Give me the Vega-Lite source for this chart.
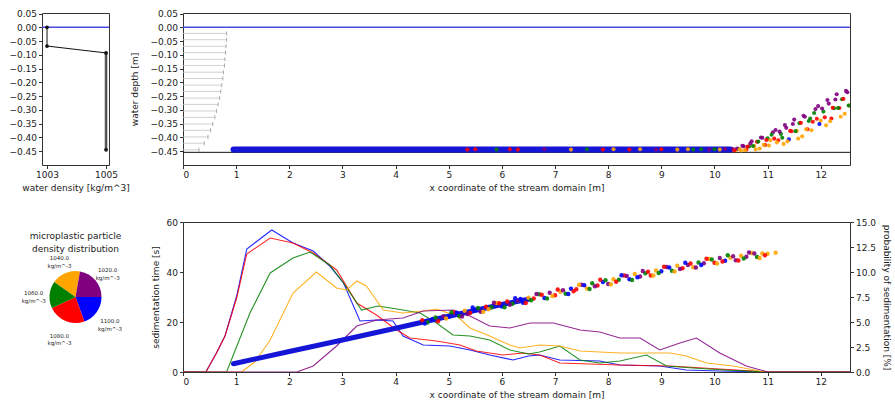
{
 "$schema": "https://vega.github.io/schema/vega-lite/v6.json",
 "padding": {"left": 8, "top": 9, "right": 0, "bottom": 0},
 "background": "white",
 "config": {
  "font": "DejaVu Sans",
  "view": {"stroke": "#333", "strokeWidth": 1},
  "axis": {"labelFont": "DejaVu Sans", "titleFont": "DejaVu Sans", "labelFontSize": 9, "titleFontSize": 9, "titleFontWeight": "normal", "labelColor": "#222", "titleColor": "#222", "grid": false, "domain": false, "tickSize": 3.5, "tickColor": "#333", "labelPadding": 2, "titlePadding": 4, "labelOverlap": false},
  "title": {"font": "DejaVu Sans", "fontSize": 9, "fontWeight": "normal", "color": "#222"}
 },
 "datasets": {
  "profile": [{"d": 1003, "z": 0.0}, {"d": 1003, "z": -0.068}, {"d": 1005, "z": -0.093}, {"d": 1005, "z": -0.445}],
  "profileGrey": [{"d": 1005, "z": -0.093}, {"d": 1005, "z": -0.445}],
  "quiver": [
   {"z": -0.022, "xs": 0, "xe": 0.82}, {"z": -0.045, "xs": 0, "xe": 0.82}, {"z": -0.069, "xs": 0, "xe": 0.81}, {"z": -0.092, "xs": 0, "xe": 0.8}, {"z": -0.116, "xs": 0, "xe": 0.79}, {"z": -0.139, "xs": 0, "xe": 0.78}, {"z": -0.163, "xs": 0, "xe": 0.76}, {"z": -0.186, "xs": 0, "xe": 0.75}, {"z": -0.21, "xs": 0, "xe": 0.73}, {"z": -0.233, "xs": 0, "xe": 0.71}, {"z": -0.257, "xs": 0, "xe": 0.69}, {"z": -0.28, "xs": 0, "xe": 0.66}, {"z": -0.304, "xs": 0, "xe": 0.63}, {"z": -0.327, "xs": 0, "xe": 0.6}, {"z": -0.351, "xs": 0, "xe": 0.56}, {"z": -0.374, "xs": 0, "xe": 0.52}, {"z": -0.398, "xs": 0, "xe": 0.47}, {"z": -0.421, "xs": 0, "xe": 0.4}, {"z": -0.445, "xs": 0, "xe": 0.3}
  ],
  "bandTop": [{"x": 0.95, "z": -0.444}, {"x": 10.3, "z": -0.444}],
  "particlesTop": [
   {"x": 5.35, "z": -0.444, "c": "red"}, {"x": 5.5, "z": -0.443, "c": "red"}, {"x": 5.9, "z": -0.444, "c": "green"}, {"x": 6.15, "z": -0.443, "c": "red"}, {"x": 6.3, "z": -0.444, "c": "red"}, {"x": 6.8, "z": -0.443, "c": "purple"}, {"x": 7.3, "z": -0.444, "c": "orange"}, {"x": 7.6, "z": -0.443, "c": "green"}, {"x": 7.9, "z": -0.444, "c": "red"}, {"x": 8.1, "z": -0.443, "c": "orange"}, {"x": 8.4, "z": -0.444, "c": "red"}, {"x": 8.6, "z": -0.443, "c": "orange"}, {"x": 8.9, "z": -0.444, "c": "purple"}, {"x": 9.0, "z": -0.443, "c": "red"}, {"x": 9.3, "z": -0.444, "c": "orange"}, {"x": 9.5, "z": -0.443, "c": "orange"}, {"x": 9.6, "z": -0.444, "c": "green"}, {"x": 9.75, "z": -0.443, "c": "green"}, {"x": 9.9, "z": -0.444, "c": "purple"}, {"x": 10.0, "z": -0.443, "c": "green"}, {"x": 10.1, "z": -0.444, "c": "orange"}, {"x": 10.2, "z": -0.442, "c": "purple"},
   {"x": 10.35, "z": -0.442, "c": "purple"}, {"x": 10.4, "z": -0.446, "c": "orange"}, {"x": 10.45, "z": -0.441, "c": "green"}, {"x": 10.5, "z": -0.447, "c": "orange"}, {"x": 10.55, "z": -0.432, "c": "purple"}, {"x": 10.6, "z": -0.444, "c": "red"}, {"x": 10.65, "z": -0.433, "c": "green"}, {"x": 10.7, "z": -0.414, "c": "purple"}, {"x": 10.75, "z": -0.431, "c": "orange"}, {"x": 10.8, "z": -0.416, "c": "red"}, {"x": 10.85, "z": -0.44, "c": "orange"}, {"x": 10.9, "z": -0.401, "c": "purple"}, {"x": 10.95, "z": -0.427, "c": "red"}, {"x": 11.0, "z": -0.403, "c": "green"}, {"x": 11.05, "z": -0.41, "c": "orange"}, {"x": 11.1, "z": -0.381, "c": "purple"}, {"x": 11.15, "z": -0.373, "c": "purple"}, {"x": 11.2, "z": -0.41, "c": "red"}, {"x": 11.25, "z": -0.387, "c": "green"}, {"x": 11.3, "z": -0.4235, "c": "orange"}, {"x": 11.35, "z": -0.365, "c": "purple"}, {"x": 11.4, "z": -0.407, "c": "blue"}, {"x": 11.45, "z": -0.3775, "c": "red"}, {"x": 11.5, "z": -0.335, "c": "purple"}, {"x": 11.55, "z": -0.376, "c": "orange"}, {"x": 11.6, "z": -0.348, "c": "green"}, {"x": 11.65, "z": -0.396, "c": "orange"}, {"x": 11.7, "z": -0.325, "c": "purple"}, {"x": 11.75, "z": -0.37, "c": "red"}, {"x": 11.8, "z": -0.331, "c": "green"}, {"x": 11.85, "z": -0.343, "c": "red"}, {"x": 11.9, "z": -0.297, "c": "purple"}, {"x": 11.95, "z": -0.286, "c": "purple"}, {"x": 12.0, "z": -0.339, "c": "orange"}, {"x": 12.05, "z": -0.306, "c": "green"}, {"x": 12.1, "z": -0.356, "c": "orange"}, {"x": 12.15, "z": -0.277, "c": "purple"}, {"x": 12.2, "z": -0.331, "c": "red"}, {"x": 12.25, "z": -0.294, "c": "green"}, {"x": 12.3, "z": -0.243, "c": "purple"}, {"x": 12.35, "z": -0.293, "c": "red"}, {"x": 12.4, "z": -0.261, "c": "green"}, {"x": 12.45, "z": -0.314, "c": "orange"}, {"x": 12.5, "z": -0.236, "c": "purple"}, {"x": 12.54, "z": -0.284, "c": "orange"},
   {"x": 10.375, "z": -0.447, "c": "red"}, {"x": 10.425, "z": -0.44, "c": "purple"}, {"x": 10.475, "z": -0.443, "c": "orange"}, {"x": 10.525, "z": -0.43, "c": "purple"}, {"x": 10.575, "z": -0.446, "c": "orange"}, {"x": 10.625, "z": -0.433, "c": "red"}, {"x": 10.675, "z": -0.422, "c": "purple"}, {"x": 10.725, "z": -0.431, "c": "green"}, {"x": 10.775, "z": -0.4435, "c": "orange"}, {"x": 10.825, "z": -0.415, "c": "green"}, {"x": 10.875, "z": -0.4, "c": "purple"}, {"x": 10.925, "z": -0.427, "c": "orange"}, {"x": 10.975, "z": -0.409, "c": "red"}, {"x": 11.025, "z": -0.429, "c": "orange"}, {"x": 11.075, "z": -0.39, "c": "green"}, {"x": 11.125, "z": -0.404, "c": "red"}, {"x": 11.175, "z": -0.418, "c": "orange"}, {"x": 11.225, "z": -0.379, "c": "purple"}, {"x": 11.275, "z": -0.401, "c": "green"}, {"x": 11.325, "z": -0.355, "c": "purple"}, {"x": 11.375, "z": -0.414, "c": "orange"}, {"x": 11.425, "z": -0.376, "c": "red"}, {"x": 11.475, "z": -0.351, "c": "purple"}, {"x": 11.525, "z": -0.377, "c": "green"}, {"x": 11.575, "z": -0.404, "c": "orange"}, {"x": 11.625, "z": -0.347, "c": "red"}, {"x": 11.675, "z": -0.321, "c": "purple"}, {"x": 11.725, "z": -0.37, "c": "orange"}, {"x": 11.775, "z": -0.34, "c": "green"}, {"x": 11.825, "z": -0.374, "c": "orange"}, {"x": 11.875, "z": -0.311, "c": "green"}, {"x": 11.925, "z": -0.332, "c": "red"}, {"x": 11.975, "z": -0.351, "c": "blue"}, {"x": 12.025, "z": -0.295, "c": "purple"}, {"x": 12.075, "z": -0.327, "c": "red"}, {"x": 12.125, "z": -0.264, "c": "purple"}, {"x": 12.175, "z": -0.341, "c": "orange"}, {"x": 12.225, "z": -0.292, "c": "red"}, {"x": 12.275, "z": -0.262, "c": "purple"}, {"x": 12.325, "z": -0.293, "c": "green"}, {"x": 12.375, "z": -0.325, "c": "orange"}, {"x": 12.425, "z": -0.26, "c": "red"}, {"x": 12.475, "z": -0.231, "c": "purple"}, {"x": 12.525, "z": -0.284, "c": "green"}
  ],
  "pie": [
   {"o": 1, "v": 65, "c": "orange", "lab": "1040.0\nkg/m^-3"},
   {"o": 2, "v": 80, "c": "purple", "lab": "1020.0\nkg/m^-3"},
   {"o": 3, "v": 70, "c": "blue", "lab": "1100.0\nkg/m^-3"},
   {"o": 4, "v": 85, "c": "red", "lab": "1080.0\nkg/m^-3"},
   {"o": 5, "v": 60, "c": "green", "lab": "1060.0\nkg/m^-3"}
  ],
  "bandBottom": [{"x": 0.95, "t": 3.3}, {"x": 2, "t": 8.2}, {"x": 3, "t": 12.8}, {"x": 4, "t": 17.5}, {"x": 5, "t": 22.3}, {"x": 6, "t": 27.0}, {"x": 6.5, "t": 29.1}],
  "sedi": [
   {"x": 4.5, "t": 20.7, "c": "red"}, {"x": 4.6, "t": 19.8, "c": "green"}, {"x": 4.7, "t": 21.2, "c": "blue"}, {"x": 4.8, "t": 20.3, "c": "red"}, {"x": 4.9, "t": 22.3, "c": "purple"}, {"x": 5.0, "t": 22.1, "c": "blue"}, {"x": 5.1, "t": 23.9, "c": "red"}, {"x": 5.2, "t": 22.4, "c": "green"}, {"x": 5.3, "t": 24.5, "c": "orange"}, {"x": 5.4, "t": 23.6, "c": "red"}, {"x": 5.5, "t": 25.0, "c": "blue"}, {"x": 5.6, "t": 24.1, "c": "purple"}, {"x": 5.7, "t": 26.1, "c": "red"}, {"x": 5.8, "t": 25.9, "c": "green"}, {"x": 5.9, "t": 27.6, "c": "orange"}, {"x": 6.0, "t": 26.2, "c": "blue"}, {"x": 6.1, "t": 28.2, "c": "red"}, {"x": 6.2, "t": 27.3, "c": "green"}, {"x": 6.3, "t": 28.6, "c": "purple"}, {"x": 6.4, "t": 27.7, "c": "blue"}, {"x": 6.5, "t": 29.7, "c": "orange"}, {"x": 6.6, "t": 29.4, "c": "red"}, {"x": 6.7, "t": 31.1, "c": "green"}, {"x": 6.8, "t": 29.6, "c": "blue"}, {"x": 6.9, "t": 31.7, "c": "purple"}, {"x": 7.0, "t": 30.7, "c": "red"}, {"x": 7.1, "t": 32.1, "c": "orange"}, {"x": 7.2, "t": 31.3, "c": "green"}, {"x": 7.3, "t": 33.3, "c": "blue"}, {"x": 7.4, "t": 33.1, "c": "red"}, {"x": 7.5, "t": 34.9, "c": "purple"}, {"x": 7.6, "t": 33.4, "c": "orange"}, {"x": 7.7, "t": 35.5, "c": "green"}, {"x": 7.8, "t": 34.6, "c": "red"}, {"x": 7.9, "t": 36.0, "c": "blue"}, {"x": 8.0, "t": 35.2, "c": "purple"}, {"x": 8.1, "t": 37.1, "c": "orange"}, {"x": 8.2, "t": 36.9, "c": "green"}, {"x": 8.3, "t": 38.6, "c": "red"}, {"x": 8.4, "t": 37.1, "c": "blue"}, {"x": 8.5, "t": 39.2, "c": "orange"}, {"x": 8.6, "t": 38.2, "c": "purple"}, {"x": 8.7, "t": 39.5, "c": "green"}, {"x": 8.8, "t": 38.6, "c": "red"}, {"x": 8.9, "t": 40.6, "c": "orange"}, {"x": 9.0, "t": 40.3, "c": "blue"}, {"x": 9.1, "t": 42.0, "c": "purple"}, {"x": 9.2, "t": 40.5, "c": "green"}, {"x": 9.3, "t": 42.5, "c": "orange"}, {"x": 9.4, "t": 41.5, "c": "red"}, {"x": 9.5, "t": 42.8, "c": "purple"}, {"x": 9.6, "t": 41.9, "c": "orange"}, {"x": 9.7, "t": 43.8, "c": "green"}, {"x": 9.8, "t": 43.5, "c": "purple"}, {"x": 9.9, "t": 45.2, "c": "orange"}, {"x": 10.0, "t": 43.7, "c": "red"}, {"x": 10.1, "t": 45.6, "c": "purple"}, {"x": 10.2, "t": 44.5, "c": "blue"}, {"x": 10.3, "t": 45.7, "c": "orange"}, {"x": 10.4, "t": 44.7, "c": "purple"}, {"x": 10.5, "t": 46.5, "c": "orange"}, {"x": 10.6, "t": 46.1, "c": "purple"}, {"x": 10.7, "t": 47.6, "c": "orange"}, {"x": 10.8, "t": 46.0, "c": "green"}, {"x": 10.9, "t": 47.4, "c": "orange"}, {"x": 11.0, "t": 47.3, "c": "orange"}, {"x": 11.15, "t": 47.7, "c": "orange"},
   {"x": 4.55, "t": 19.4, "c": "blue"}, {"x": 4.75, "t": 21.8, "c": "green"}, {"x": 4.95, "t": 21.4, "c": "orange"}, {"x": 5.15, "t": 23.7, "c": "blue"}, {"x": 5.35, "t": 23.2, "c": "purple"}, {"x": 5.55, "t": 25.6, "c": "green"}, {"x": 5.75, "t": 25.1, "c": "orange"}, {"x": 5.95, "t": 27.5, "c": "red"}, {"x": 6.15, "t": 26.9, "c": "purple"}, {"x": 6.35, "t": 29.2, "c": "blue"}, {"x": 6.55, "t": 28.7, "c": "green"}, {"x": 6.75, "t": 30.9, "c": "red"}, {"x": 6.95, "t": 30.4, "c": "orange"}, {"x": 7.15, "t": 32.7, "c": "purple"}, {"x": 7.35, "t": 32.3, "c": "red"}, {"x": 7.55, "t": 34.7, "c": "blue"}, {"x": 7.75, "t": 34.3, "c": "purple"}, {"x": 7.95, "t": 36.7, "c": "green"}, {"x": 8.15, "t": 36.1, "c": "red"}, {"x": 8.35, "t": 38.4, "c": "purple"}, {"x": 8.55, "t": 37.9, "c": "blue"}, {"x": 8.75, "t": 40.1, "c": "red"}, {"x": 8.95, "t": 39.6, "c": "green"}, {"x": 9.15, "t": 41.8, "c": "blue"}, {"x": 9.35, "t": 41.2, "c": "purple"}, {"x": 9.55, "t": 43.4, "c": "red"}, {"x": 9.75, "t": 42.8, "c": "blue"}, {"x": 9.95, "t": 45.0, "c": "green"}, {"x": 10.15, "t": 44.2, "c": "red"}, {"x": 10.35, "t": 46.3, "c": "purple"}, {"x": 10.55, "t": 45.4, "c": "green"}, {"x": 10.75, "t": 47.4, "c": "purple"}, {"x": 10.95, "t": 46.7, "c": "red"},
   {"x": 5.05, "t": 23.9, "c": "green"}, {"x": 5.25, "t": 22.2, "c": "purple"}, {"x": 5.45, "t": 25.8, "c": "blue"}, {"x": 5.65, "t": 24.1, "c": "orange"}, {"x": 5.85, "t": 27.7, "c": "purple"}, {"x": 6.05, "t": 25.9, "c": "green"}, {"x": 6.25, "t": 29.5, "c": "blue"}, {"x": 6.45, "t": 27.6, "c": "red"}, {"x": 6.65, "t": 31.2, "c": "purple"}, {"x": 6.85, "t": 29.4, "c": "green"}, {"x": 7.05, "t": 33.0, "c": "red"}, {"x": 7.25, "t": 31.2, "c": "blue"}, {"x": 7.45, "t": 34.9, "c": "orange"}, {"x": 7.65, "t": 33.2, "c": "green"}, {"x": 7.85, "t": 36.9, "c": "red"}, {"x": 8.05, "t": 35.1, "c": "orange"}, {"x": 8.25, "t": 38.7, "c": "blue"}, {"x": 8.45, "t": 36.8, "c": "green"}, {"x": 8.65, "t": 40.4, "c": "purple"}, {"x": 8.85, "t": 38.6, "c": "orange"}, {"x": 9.05, "t": 42.1, "c": "red"}, {"x": 9.25, "t": 40.2, "c": "orange"}, {"x": 9.45, "t": 43.7, "c": "blue"}, {"x": 9.65, "t": 41.8, "c": "purple"}, {"x": 9.85, "t": 45.3, "c": "red"}, {"x": 10.05, "t": 43.4, "c": "orange"}, {"x": 10.25, "t": 46.7, "c": "green"}, {"x": 10.45, "t": 44.6, "c": "red"}, {"x": 10.65, "t": 47.8, "c": "purple"}, {"x": 10.85, "t": 45.6, "c": "orange"}
  ],
  "prob": [
   {"c": "blue", "x": 0, "p": 0}, {"c": "blue", "x": 0.43, "p": 0}, {"c": "blue", "x": 0.63, "p": 1.9}, {"c": "blue", "x": 0.79, "p": 3.6}, {"c": "blue", "x": 1.01, "p": 7.6}, {"c": "blue", "x": 1.2, "p": 12.3}, {"c": "blue", "x": 1.67, "p": 14.2}, {"c": "blue", "x": 2.07, "p": 12.9}, {"c": "blue", "x": 2.45, "p": 12.1}, {"c": "blue", "x": 2.76, "p": 10.6}, {"c": "blue", "x": 3.02, "p": 8.9}, {"c": "blue", "x": 3.33, "p": 5.1}, {"c": "blue", "x": 3.64, "p": 5.2}, {"c": "blue", "x": 3.95, "p": 5.1}, {"c": "blue", "x": 4.14, "p": 3.6}, {"c": "blue", "x": 4.52, "p": 2.7}, {"c": "blue", "x": 5.02, "p": 2.6}, {"c": "blue", "x": 5.4, "p": 2.2}, {"c": "blue", "x": 5.77, "p": 1.7}, {"c": "blue", "x": 6.21, "p": 1.2}, {"c": "blue", "x": 6.5, "p": 1.6}, {"c": "blue", "x": 6.71, "p": 1.7}, {"c": "blue", "x": 7.09, "p": 1.2}, {"c": "blue", "x": 7.84, "p": 1.1}, {"c": "blue", "x": 8.22, "p": 0.7}, {"c": "blue", "x": 8.97, "p": 0.6}, {"c": "blue", "x": 9.47, "p": 0.2}, {"c": "blue", "x": 10.1, "p": 0.1}, {"c": "blue", "x": 11, "p": 0}, {"c": "blue", "x": 12.55, "p": 0},
   {"c": "red", "x": 0, "p": 0}, {"c": "red", "x": 0.43, "p": 0}, {"c": "red", "x": 0.63, "p": 1.9}, {"c": "red", "x": 0.79, "p": 3.6}, {"c": "red", "x": 1.01, "p": 7.4}, {"c": "red", "x": 1.2, "p": 11.8}, {"c": "red", "x": 1.64, "p": 13.4}, {"c": "red", "x": 2.07, "p": 12.9}, {"c": "red", "x": 2.45, "p": 11.9}, {"c": "red", "x": 2.89, "p": 10.2}, {"c": "red", "x": 3.27, "p": 6.9}, {"c": "red", "x": 3.64, "p": 5.7}, {"c": "red", "x": 4.02, "p": 4.2}, {"c": "red", "x": 4.27, "p": 3.4}, {"c": "red", "x": 4.77, "p": 3.1}, {"c": "red", "x": 5.21, "p": 2.7}, {"c": "red", "x": 5.52, "p": 2.1}, {"c": "red", "x": 6.02, "p": 1.7}, {"c": "red", "x": 6.4, "p": 1.9}, {"c": "red", "x": 6.71, "p": 1.7}, {"c": "red", "x": 7.09, "p": 0.9}, {"c": "red", "x": 8.22, "p": 0.7}, {"c": "red", "x": 9.16, "p": 0.6}, {"c": "red", "x": 9.78, "p": 0.4}, {"c": "red", "x": 10.41, "p": 0.2}, {"c": "red", "x": 11, "p": 0}, {"c": "red", "x": 12.55, "p": 0},
   {"c": "green", "x": 0, "p": 0}, {"c": "green", "x": 0.82, "p": 0}, {"c": "green", "x": 1.26, "p": 5.9}, {"c": "green", "x": 1.64, "p": 9.9}, {"c": "green", "x": 2.07, "p": 11.4}, {"c": "green", "x": 2.39, "p": 12.0}, {"c": "green", "x": 2.76, "p": 10.7}, {"c": "green", "x": 3.02, "p": 8.9}, {"c": "green", "x": 3.36, "p": 6.2}, {"c": "green", "x": 3.67, "p": 6.6}, {"c": "green", "x": 4.14, "p": 6.2}, {"c": "green", "x": 4.46, "p": 5.9}, {"c": "green", "x": 4.77, "p": 4.9}, {"c": "green", "x": 5.08, "p": 3.7}, {"c": "green", "x": 5.4, "p": 3.6}, {"c": "green", "x": 5.77, "p": 3.2}, {"c": "green", "x": 6.15, "p": 2.2}, {"c": "green", "x": 6.5, "p": 1.8}, {"c": "green", "x": 6.71, "p": 2.0}, {"c": "green", "x": 7.09, "p": 2.6}, {"c": "green", "x": 7.47, "p": 1.2}, {"c": "green", "x": 7.84, "p": 0.9}, {"c": "green", "x": 8.22, "p": 1.1}, {"c": "green", "x": 8.72, "p": 1.7}, {"c": "green", "x": 9.1, "p": 0.6}, {"c": "green", "x": 9.6, "p": 0.4}, {"c": "green", "x": 10.2, "p": 0.2}, {"c": "green", "x": 11, "p": 0}, {"c": "green", "x": 12.55, "p": 0},
   {"c": "orange", "x": 0, "p": 0}, {"c": "orange", "x": 1.1, "p": 0}, {"c": "orange", "x": 1.35, "p": 1.0}, {"c": "orange", "x": 1.64, "p": 3.2}, {"c": "orange", "x": 2.07, "p": 7.9}, {"c": "orange", "x": 2.51, "p": 10.0}, {"c": "orange", "x": 2.89, "p": 8.4}, {"c": "orange", "x": 3.08, "p": 8.2}, {"c": "orange", "x": 3.27, "p": 9.1}, {"c": "orange", "x": 3.45, "p": 8.6}, {"c": "orange", "x": 3.77, "p": 6.2}, {"c": "orange", "x": 4.14, "p": 5.9}, {"c": "orange", "x": 4.52, "p": 6.1}, {"c": "orange", "x": 4.77, "p": 6.3}, {"c": "orange", "x": 5.15, "p": 5.6}, {"c": "orange", "x": 5.4, "p": 4.4}, {"c": "orange", "x": 5.77, "p": 3.6}, {"c": "orange", "x": 6.15, "p": 2.7}, {"c": "orange", "x": 6.34, "p": 2.4}, {"c": "orange", "x": 6.71, "p": 2.7}, {"c": "orange", "x": 7.09, "p": 2.6}, {"c": "orange", "x": 7.47, "p": 2.1}, {"c": "orange", "x": 8.22, "p": 1.9}, {"c": "orange", "x": 9.16, "p": 1.9}, {"c": "orange", "x": 9.47, "p": 1.6}, {"c": "orange", "x": 9.85, "p": 0.9}, {"c": "orange", "x": 10.35, "p": 0.6}, {"c": "orange", "x": 10.85, "p": 0.1}, {"c": "orange", "x": 11, "p": 0}, {"c": "orange", "x": 12.55, "p": 0},
   {"c": "purple", "x": 0, "p": 0}, {"c": "purple", "x": 2.14, "p": 0}, {"c": "purple", "x": 2.45, "p": 0.6}, {"c": "purple", "x": 2.89, "p": 2.6}, {"c": "purple", "x": 3.27, "p": 4.6}, {"c": "purple", "x": 3.64, "p": 5.2}, {"c": "purple", "x": 4.14, "p": 5.4}, {"c": "purple", "x": 4.52, "p": 6.1}, {"c": "purple", "x": 5.08, "p": 6.2}, {"c": "purple", "x": 5.4, "p": 5.6}, {"c": "purple", "x": 5.77, "p": 4.6}, {"c": "purple", "x": 6.15, "p": 4.4}, {"c": "purple", "x": 6.53, "p": 4.9}, {"c": "purple", "x": 6.97, "p": 4.9}, {"c": "purple", "x": 7.47, "p": 4.2}, {"c": "purple", "x": 7.84, "p": 4.0}, {"c": "purple", "x": 8.22, "p": 3.4}, {"c": "purple", "x": 8.6, "p": 3.4}, {"c": "purple", "x": 8.97, "p": 2.2}, {"c": "purple", "x": 9.35, "p": 2.9}, {"c": "purple", "x": 9.66, "p": 3.4}, {"c": "purple", "x": 10.1, "p": 1.9}, {"c": "purple", "x": 10.6, "p": 0.6}, {"c": "purple", "x": 11, "p": 0}, {"c": "purple", "x": 12.55, "p": 0}
  ]
 },
 "columns": 2,
 "spacing": {"row": 57, "column": 74},
 "bounds": "flush",
 "concat": [
    {
     "width": 67, "height": 152,
     "layer": [
      {
       "data": {"values": [{"z": 0}]},
       "mark": {"type": "rule", "color": "#4a4ae6", "strokeWidth": 1.5},
       "encoding": {"y": {"field": "z", "type": "quantitative", "scale": {"domain": [-0.5, 0.052]}, "axis": {"values": [-0.45, -0.4, -0.35, -0.3, -0.25, -0.2, -0.15, -0.1, -0.05, 0, 0.05], "tickCount": 11, "labelOverlap": false, "format": ".2f", "title": null}}}
      },
      {
       "data": {"name": "profileGrey"},
       "mark": {"type": "line", "color": "#999999", "strokeWidth": 3},
       "encoding": {
        "x": {"field": "d", "type": "quantitative", "scale": {"domain": [1002.83, 1005.1]}, "axis": {"values": [1003, 1005], "format": "d", "title": "water density [kg/m^3]"}},
        "y": {"field": "z", "type": "quantitative", "scale": {"domain": [-0.5, 0.052]}, "axis": {"values": [-0.45, -0.4, -0.35, -0.3, -0.25, -0.2, -0.15, -0.1, -0.05, 0, 0.05], "tickCount": 11, "labelOverlap": false, "format": ".2f", "title": null}}
       }
      },
      {
       "data": {"name": "profile"},
       "mark": {"type": "line", "color": "#111", "strokeWidth": 1, "point": {"filled": true, "size": 14, "color": "#111"}},
       "encoding": {
        "x": {"field": "d", "type": "quantitative", "scale": {"domain": [1002.83, 1005.1]}, "axis": {"values": [1003, 1005], "format": "d", "title": "water density [kg/m^3]"}},
        "y": {"field": "z", "type": "quantitative", "scale": {"domain": [-0.5, 0.052]}, "axis": {"values": [-0.45, -0.4, -0.35, -0.3, -0.25, -0.2, -0.15, -0.1, -0.05, 0, 0.05], "tickCount": 11, "labelOverlap": false, "format": ".2f", "title": null}}
       }
      }
     ]
    },
    {
     "width": 667, "height": 152,
     "encoding": {
      "y": {"field": "z", "type": "quantitative", "scale": {"domain": [-0.5, 0.052]}, "axis": {"values": [-0.45, -0.4, -0.35, -0.3, -0.25, -0.2, -0.15, -0.1, -0.05, 0, 0.05], "tickCount": 11, "labelOverlap": false, "format": ".2f", "title": "water depth [m]", "titlePadding": 10}}
     },
     "layer": [
      {
       "data": {"name": "quiver"},
       "mark": {"type": "rule", "color": "#c4c4c4", "strokeWidth": 0.8},
       "encoding": {
        "x": {"field": "xs", "type": "quantitative", "scale": {"domain": [0, 12.55]}, "axis": {"values": [0, 1, 2, 3, 4, 5, 6, 7, 8, 9, 10, 11, 12], "format": "d", "title": "x coordinate of the stream domain [m]"}},
        "x2": {"field": "xe"}
       }
      },
      {
       "data": {"name": "quiver"},
       "mark": {"type": "tick", "orient": "vertical", "color": "#888", "size": 4, "thickness": 1},
       "encoding": {
        "x": {"field": "xe", "type": "quantitative", "scale": {"domain": [0, 12.55]}}
       }
      },
      {
       "data": {"values": [{"z": 0}]},
       "mark": {"type": "rule", "color": "#4a4ae6", "strokeWidth": 1.5}
      },
      {
       "data": {"values": [{"z": -0.454}]},
       "mark": {"type": "rule", "color": "#111", "strokeWidth": 1}
      },
      {
       "data": {"name": "bandTop"},
       "mark": {"type": "line", "color": "#1515d8", "strokeWidth": 6, "strokeCap": "round"},
       "encoding": {
        "x": {"field": "x", "type": "quantitative", "scale": {"domain": [0, 12.55]}}
       }
      },
      {
       "data": {"name": "particlesTop"},
       "mark": {"type": "circle", "size": 17, "opacity": 0.9, "clip": true},
       "encoding": {
        "x": {"field": "x", "type": "quantitative", "scale": {"domain": [0, 12.55]}},
        "color": {"field": "c", "type": "nominal", "scale": {"domain": ["blue", "red", "green", "orange", "purple"], "range": ["#0000ff", "#ff0000", "#008000", "#ffa500", "#800080"]}, "legend": null}
       }
      }
     ]
    },
    {
     "width": 67, "height": 150,
     "view": {"stroke": null},
     "title": {"text": ["microplastic particle", "density distribution"], "fontSize": 9, "lineHeight": 13, "dy": 36, "anchor": "middle"},
     "data": {"name": "pie"},
     "layer": [
      {
       "mark": {"type": "arc", "outerRadius": 26},
       "encoding": {
        "theta": {"field": "v", "type": "quantitative", "stack": true, "scale": {"range": [-0.96, 5.3232]}},
        "order": {"field": "o", "type": "quantitative"},
        "color": {"field": "c", "type": "nominal", "scale": {"domain": ["blue", "red", "green", "orange", "purple"], "range": ["#0000ff", "#ff0000", "#008000", "#ffa500", "#800080"]}, "legend": null}
       }
      },
      {
       "mark": {"type": "text", "radius": 42, "fontSize": 5.5, "lineBreak": "\n", "color": "#222"},
       "encoding": {
        "theta": {"field": "v", "type": "quantitative", "stack": true, "scale": {"range": [-0.96, 5.3232]}},
        "order": {"field": "o", "type": "quantitative"},
        "text": {"field": "lab", "type": "nominal"}
       }
      }
     ]
    },
    {
     "width": 667, "height": 150,
     "layer": [
      {
       "data": {"name": "prob"},
       "mark": {"type": "line", "strokeWidth": 1.1, "opacity": 0.85, "clip": true},
       "encoding": {
        "x": {"field": "x", "type": "quantitative", "scale": {"domain": [0, 12.55]}},
        "y": {"field": "p", "type": "quantitative", "scale": {"domain": [0, 15]}, "axis": {"orient": "right", "values": [0, 2.5, 5, 7.5, 10, 12.5, 15], "tickCount": 7, "format": ".1f", "title": "probability of sedimentation [%]", "titlePadding": 6}},
        "color": {"field": "c", "type": "nominal", "scale": {"domain": ["blue", "red", "green", "orange", "purple"], "range": ["#0000ff", "#ff0000", "#008000", "#ffa500", "#800080"]}, "legend": null}
       }
      },
      {
       "layer": [
        {
         "data": {"name": "bandBottom"},
         "mark": {"type": "line", "color": "#1515d8", "strokeWidth": 5, "strokeCap": "round"},
         "encoding": {
          "x": {"field": "x", "type": "quantitative", "scale": {"domain": [0, 12.55]}},
          "y": {"field": "t", "type": "quantitative", "scale": {"domain": [0, 60]}}
         }
        },
        {
         "data": {"name": "sedi"},
         "mark": {"type": "circle", "size": 19, "opacity": 0.9},
         "encoding": {
          "x": {"field": "x", "type": "quantitative", "scale": {"domain": [0, 12.55]}, "axis": {"values": [0, 1, 2, 3, 4, 5, 6, 7, 8, 9, 10, 11, 12], "format": "d", "title": "x coordinate of the stream domain [m]"}},
          "y": {"field": "t", "type": "quantitative", "scale": {"domain": [0, 60]}, "axis": {"orient": "left", "values": [0, 20, 40, 60], "format": "d", "title": "sedimentation time [s]", "titlePadding": 6}},
          "color": {"field": "c", "type": "nominal", "scale": {"domain": ["blue", "red", "green", "orange", "purple"], "range": ["#0000ff", "#ff0000", "#008000", "#ffa500", "#800080"]}, "legend": null}
         }
        }
       ]
      }
     ],
     "resolve": {"scale": {"y": "independent"}, "axis": {"y": "independent"}}
    }
 ]
}
